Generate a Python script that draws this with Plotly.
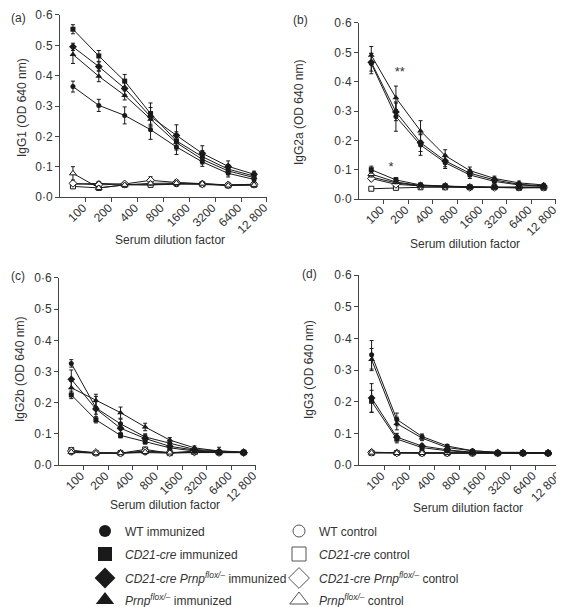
import plotly.graph_objects as go

# ---------------- data ----------------
dilutions = ["100", "200", "400", "800", "1600", "3200", "6400", "12 800"]
y_tick_vals = [0.0, 0.1, 0.2, 0.3, 0.4, 0.5, 0.6]
y_tick_text = ["0·0", "0·1", "0·2", "0·3", "0·4", "0·5", "0·6"]

# (a) IgG1
a_wt_imm = [0.364, 0.302, 0.269, 0.222, 0.165, 0.116, 0.078, 0.058]
a_wt_imm_err = [0.018, 0.020, 0.028, 0.032, 0.025, 0.015, 0.012, 0.008]
a_cd_imm = [0.553, 0.465, 0.382, 0.275, 0.185, 0.133, 0.092, 0.069]
a_cd_imm_err = [0.015, 0.018, 0.022, 0.035, 0.030, 0.020, 0.015, 0.010]
a_cdp_imm = [0.495, 0.430, 0.358, 0.265, 0.203, 0.144, 0.101, 0.075]
a_cdp_imm_err = [0.012, 0.015, 0.020, 0.030, 0.035, 0.025, 0.018, 0.010]
a_p_imm = [0.470, 0.398, 0.335, 0.256, 0.179, 0.124, 0.086, 0.064]
a_p_imm_err = [0.030, 0.018, 0.015, 0.025, 0.020, 0.015, 0.012, 0.008]
a_wt_ctl = [0.042, 0.045, 0.042, 0.040, 0.042, 0.043, 0.040, 0.040]
a_wt_ctl_err = [0.005, 0.004, 0.004, 0.004, 0.004, 0.003, 0.003, 0.003]
a_cd_ctl = [0.035, 0.030, 0.040, 0.040, 0.045, 0.042, 0.038, 0.040]
a_cd_ctl_err = [0.006, 0.006, 0.004, 0.004, 0.005, 0.003, 0.003, 0.003]
a_cdp_ctl = [0.045, 0.040, 0.043, 0.055, 0.048, 0.043, 0.040, 0.042]
a_cdp_ctl_err = [0.006, 0.005, 0.004, 0.012, 0.008, 0.004, 0.004, 0.003]
a_p_ctl = [0.078, 0.030, 0.040, 0.045, 0.046, 0.044, 0.038, 0.040]
a_p_ctl_err = [0.022, 0.006, 0.004, 0.006, 0.006, 0.004, 0.004, 0.003]

# (b) IgG2a
b_wt_imm = [0.462, 0.281, 0.184, 0.124, 0.082, 0.060, 0.048, 0.043]
b_wt_imm_err = [0.035, 0.050, 0.035, 0.020, 0.012, 0.008, 0.006, 0.005]
b_cd_imm = [0.100, 0.065, 0.048, 0.045, 0.040, 0.040, 0.040, 0.040]
b_cd_imm_err = [0.012, 0.008, 0.005, 0.005, 0.004, 0.003, 0.003, 0.003]
b_cdp_imm = [0.466, 0.297, 0.192, 0.130, 0.088, 0.065, 0.050, 0.045]
b_cdp_imm_err = [0.030, 0.030, 0.030, 0.020, 0.012, 0.008, 0.006, 0.005]
b_p_imm = [0.490, 0.345, 0.232, 0.148, 0.097, 0.070, 0.055, 0.048]
b_p_imm_err = [0.030, 0.040, 0.035, 0.020, 0.012, 0.008, 0.006, 0.005]
b_wt_ctl = [0.075, 0.055, 0.045, 0.042, 0.040, 0.040, 0.038, 0.040]
b_wt_ctl_err = [0.010, 0.006, 0.004, 0.003, 0.003, 0.003, 0.003, 0.003]
b_cd_ctl = [0.035, 0.038, 0.040, 0.040, 0.040, 0.040, 0.038, 0.038]
b_cd_ctl_err = [0.003, 0.003, 0.003, 0.003, 0.003, 0.003, 0.003, 0.003]
b_cdp_ctl = [0.070, 0.050, 0.045, 0.043, 0.040, 0.040, 0.040, 0.040]
b_cdp_ctl_err = [0.008, 0.006, 0.004, 0.003, 0.003, 0.003, 0.003, 0.003]
b_p_ctl = [0.085, 0.058, 0.046, 0.044, 0.041, 0.040, 0.040, 0.040]
b_p_ctl_err = [0.010, 0.006, 0.004, 0.004, 0.003, 0.003, 0.003, 0.003]
b_star_x = [1.3, 1.66]
b_star_y = [0.107, 0.43]
b_star_text = ["*", "**"]

# (c) IgG2b
c_wt_imm = [0.326, 0.183, 0.132, 0.090, 0.070, 0.050, 0.045, 0.040]
c_wt_imm_err = [0.012, 0.020, 0.015, 0.010, 0.008, 0.006, 0.005, 0.004]
c_cd_imm = [0.225, 0.145, 0.095, 0.075, 0.055, 0.045, 0.040, 0.040]
c_cd_imm_err = [0.012, 0.010, 0.008, 0.008, 0.006, 0.005, 0.004, 0.004]
c_cdp_imm = [0.275, 0.180, 0.118, 0.085, 0.060, 0.048, 0.042, 0.040]
c_cdp_imm_err = [0.030, 0.040, 0.015, 0.012, 0.008, 0.006, 0.005, 0.004]
c_p_imm = [0.248, 0.207, 0.168, 0.122, 0.080, 0.055, 0.045, 0.042]
c_p_imm_err = [0.020, 0.020, 0.018, 0.012, 0.008, 0.006, 0.012, 0.004]
c_wt_ctl = [0.040, 0.038, 0.038, 0.040, 0.038, 0.040, 0.040, 0.040]
c_wt_ctl_err = [0.003, 0.003, 0.003, 0.003, 0.003, 0.003, 0.003, 0.003]
c_cd_ctl = [0.048, 0.038, 0.038, 0.050, 0.038, 0.045, 0.040, 0.040]
c_cd_ctl_err = [0.004, 0.003, 0.003, 0.005, 0.003, 0.004, 0.003, 0.003]
c_cdp_ctl = [0.045, 0.040, 0.038, 0.045, 0.040, 0.042, 0.040, 0.040]
c_cdp_ctl_err = [0.004, 0.003, 0.003, 0.004, 0.003, 0.003, 0.003, 0.003]
c_p_ctl = [0.042, 0.038, 0.038, 0.042, 0.040, 0.040, 0.040, 0.040]
c_p_ctl_err = [0.003, 0.003, 0.003, 0.003, 0.003, 0.003, 0.003, 0.003]

# (d) IgG3
d_wt_imm = [0.348, 0.144, 0.090, 0.060, 0.045, 0.040, 0.040, 0.038]
d_wt_imm_err = [0.045, 0.020, 0.008, 0.005, 0.004, 0.003, 0.003, 0.003]
d_cd_imm = [0.201, 0.082, 0.055, 0.045, 0.040, 0.038, 0.038, 0.038]
d_cd_imm_err = [0.035, 0.012, 0.006, 0.004, 0.003, 0.003, 0.003, 0.003]
d_cdp_imm = [0.212, 0.088, 0.060, 0.048, 0.040, 0.038, 0.038, 0.037]
d_cdp_imm_err = [0.045, 0.012, 0.006, 0.004, 0.003, 0.003, 0.003, 0.003]
d_p_imm = [0.333, 0.131, 0.085, 0.055, 0.045, 0.040, 0.038, 0.037]
d_p_imm_err = [0.035, 0.020, 0.008, 0.005, 0.004, 0.003, 0.003, 0.003]
d_wt_ctl = [0.040, 0.038, 0.038, 0.038, 0.038, 0.038, 0.038, 0.038]
d_wt_ctl_err = [0.003, 0.003, 0.003, 0.003, 0.003, 0.003, 0.003, 0.003]
d_cd_ctl = [0.038, 0.038, 0.037, 0.037, 0.037, 0.037, 0.037, 0.037]
d_cd_ctl_err = [0.003, 0.003, 0.003, 0.003, 0.003, 0.003, 0.003, 0.003]
d_cdp_ctl = [0.040, 0.038, 0.038, 0.038, 0.038, 0.038, 0.038, 0.038]
d_cdp_ctl_err = [0.003, 0.003, 0.003, 0.003, 0.003, 0.003, 0.003, 0.003]
d_p_ctl = [0.039, 0.038, 0.038, 0.038, 0.038, 0.038, 0.038, 0.038]
d_p_ctl_err = [0.003, 0.003, 0.003, 0.003, 0.003, 0.003, 0.003, 0.003]

panel_titles = ["IgG1 (OD 640 nm)", "IgG2a (OD 640 nm)", "IgG2b (OD 640 nm)", "IgG3 (OD 640 nm)"]
panel_letters = ["(a)", "(b)", "(c)", "(d)"]
x_title = "Serum dilution factor"

group_names = ["WT", "<i>CD21-cre</i>", "<i>CD21-cre Prnp<sup>flox/–</sup></i>", "<i>Prnp<sup>flox/–</sup></i>"]
group_symbols = ["circle", "square", "diamond", "triangle-up"]

# ---------------- figure ----------------
W, H = 564, 607
INK = "#1a1a1a"
TXT = "#333333"
FONT = "Liberation Sans, Arial, sans-serif"

x_pos = [i + 0.5 for i in range(len(dilutions))]
tick_pos = [i + 1 for i in range(len(dilutions))]

panels = [
    ("x", "y", [a_wt_imm, a_cd_imm, a_cdp_imm, a_p_imm], [a_wt_imm_err, a_cd_imm_err, a_cdp_imm_err, a_p_imm_err],
     [a_wt_ctl, a_cd_ctl, a_cdp_ctl, a_p_ctl], [a_wt_ctl_err, a_cd_ctl_err, a_cdp_ctl_err, a_p_ctl_err]),
    ("x2", "y2", [b_wt_imm, b_cd_imm, b_cdp_imm, b_p_imm], [b_wt_imm_err, b_cd_imm_err, b_cdp_imm_err, b_p_imm_err],
     [b_wt_ctl, b_cd_ctl, b_cdp_ctl, b_p_ctl], [b_wt_ctl_err, b_cd_ctl_err, b_cdp_ctl_err, b_p_ctl_err]),
    ("x3", "y3", [c_wt_imm, c_cd_imm, c_cdp_imm, c_p_imm], [c_wt_imm_err, c_cd_imm_err, c_cdp_imm_err, c_p_imm_err],
     [c_wt_ctl, c_cd_ctl, c_cdp_ctl, c_p_ctl], [c_wt_ctl_err, c_cd_ctl_err, c_cdp_ctl_err, c_p_ctl_err]),
    ("x4", "y4", [d_wt_imm, d_cd_imm, d_cdp_imm, d_p_imm], [d_wt_imm_err, d_cd_imm_err, d_cdp_imm_err, d_p_imm_err],
     [d_wt_ctl, d_cd_ctl, d_cdp_ctl, d_p_ctl], [d_wt_ctl_err, d_cd_ctl_err, d_cdp_ctl_err, d_p_ctl_err]),
]

marker_sizes = {"circle": 5, "square": 5, "diamond": 6, "triangle-up": 6}

fig = go.Figure()

for xa, ya, imm, imm_err, ctl, ctl_err in panels:
    for k in range(4):
        fig.add_trace(go.Scatter(
            x=x_pos, y=ctl[k], xaxis=xa, yaxis=ya, mode="lines+markers",
            line=dict(color=INK, width=1),
            marker=dict(symbol=group_symbols[k], size=marker_sizes[group_symbols[k]],
                        color="white", line=dict(color=INK, width=1)),
            error_y=dict(type="data", array=ctl_err[k], color=INK, thickness=1, width=2),
            showlegend=False, hoverinfo="skip"))
    for k in range(4):
        fig.add_trace(go.Scatter(
            x=x_pos, y=imm[k], xaxis=xa, yaxis=ya, mode="lines+markers",
            line=dict(color=INK, width=1),
            marker=dict(symbol=group_symbols[k], size=marker_sizes[group_symbols[k]],
                        color=INK, line=dict(color=INK, width=0)),
            error_y=dict(type="data", array=imm_err[k], color=INK, thickness=1, width=2),
            showlegend=False, hoverinfo="skip"))

# significance stars in (b)
fig.add_trace(go.Scatter(x=b_star_x, y=b_star_y, xaxis="x2", yaxis="y2", mode="text",
                         text=b_star_text, textfont=dict(family=FONT, size=13, color=TXT),
                         showlegend=False, hoverinfo="skip"))

# legend: one small legend per entry so rows/columns sit where the reference has them
legend_sizes = {"circle": 12, "square": 14, "diamond": 16, "triangle-up": 16}
legend_rows_px = [523, 546, 570, 592]
legend_cols_px = [77, 271]
legend_layout = {}
n = 0
for k in range(4):
    for c, filled in enumerate((True, False)):
        n += 1
        key = "legend" if n == 1 else "legend%d" % n
        name = group_names[k] + (" immunized" if filled else " control")
        fig.add_trace(go.Scatter(
            x=[None], y=[None], mode="markers", name=name, legend=key,
            marker=dict(symbol=group_symbols[k], size=legend_sizes[group_symbols[k]],
                        color=INK if filled else "white",
                        line=dict(color=INK if filled else "#555555", width=0 if filled else 1)),
            showlegend=True))
        legend_layout[key] = dict(
            x=legend_cols_px[c] / W, xanchor="left", y=1 - legend_rows_px[k] / H, yanchor="middle",
            font=dict(family=FONT, size=12, color=TXT), bgcolor="rgba(0,0,0,0)",
            itemsizing="trace", itemclick=False, itemdoubleclick=False, borderwidth=0)

domains = [
    ([0.0922, 0.4592], [0.6886, 0.9885]),
    ([0.6223, 0.9716], [0.6853, 0.9753]),
    ([0.0904, 0.4397], [0.2471, 0.5552]),
    ([0.6223, 0.9800], [0.2471, 0.5601]),
]

axis_common = dict(showline=True, linecolor="#444444", linewidth=1, showgrid=False, zeroline=False,
                   ticks="outside", ticklen=4, tickcolor="#444444", tickwidth=1,
                   tickfont=dict(family=FONT, size=12, color=TXT), automargin=False, fixedrange=True)

layout_axes = {}
for i, (dx, dy) in enumerate(domains):
    sx = "" if i == 0 else str(i + 1)
    layout_axes["xaxis" + sx] = dict(
        axis_common, domain=dx, anchor="y" + sx, range=[0, 8],
        tickmode="array", tickvals=tick_pos, ticktext=dilutions, tickangle=-45,
        ticklabelstandoff=-6, ticklabelshift=-3)
    layout_axes["yaxis" + sx] = dict(
        axis_common, domain=dy, anchor="x" + sx, range=[0, 0.6],
        tickmode="array", tickvals=y_tick_vals, ticktext=y_tick_text)

annotations = []
# panel letters
letter_pos = [(10, 10), (292, 12), (10, 268), (301, 266)]
for (px, py), lab in zip(letter_pos, panel_letters):
    annotations.append(dict(text=lab, x=px / W, y=1 - py / H, xref="paper", yref="paper",
                            xanchor="center", yanchor="middle", showarrow=False,
                            font=dict(family=FONT, size=12, color=TXT)))
# x-axis titles
x_title_pos = [(162, 232), (457, 236), (157, 497), (460, 500)]
for px, py in x_title_pos:
    annotations.append(dict(text=x_title, x=px / W, y=1 - py / H, xref="paper", yref="paper",
                            xanchor="center", yanchor="middle", showarrow=False,
                            font=dict(family=FONT, size=12, color=TXT)))
# y-axis titles
y_title_pos = [(14, 100), (291, 105), (12, 362), (301, 362)]
for (px, py), t in zip(y_title_pos, panel_titles):
    annotations.append(dict(text=t, x=px / W, y=1 - py / H, xref="paper", yref="paper",
                            xanchor="center", yanchor="middle", showarrow=False, textangle=-90,
                            font=dict(family=FONT, size=12, color=TXT)))

fig.update_layout(
    width=W, height=H, margin=dict(l=0, r=0, t=0, b=0, autoexpand=False),
    paper_bgcolor="white", plot_bgcolor="white",
    font=dict(family=FONT, size=12, color=TXT),
    annotations=annotations,
    **legend_layout,
    **layout_axes,
)

fig.write_html("out.html")
